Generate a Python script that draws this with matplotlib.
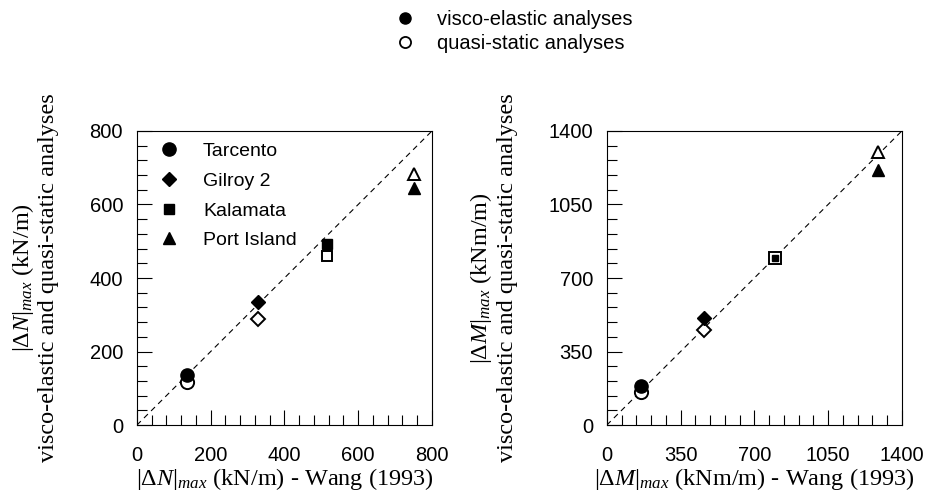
import matplotlib
matplotlib.use("Agg")
import matplotlib.pyplot as plt
from matplotlib.lines import Line2D
from matplotlib.ticker import MultipleLocator

plt.rcParams['font.family'] = ['Liberation Sans', 'DejaVu Sans']
plt.rcParams['mathtext.fontset'] = 'custom'
plt.rcParams['mathtext.rm'] = 'Liberation Serif'
plt.rcParams['mathtext.it'] = 'Liberation Serif:italic'
plt.rcParams['mathtext.bf'] = 'Liberation Serif:bold'

# data
sites = ["Tarcento", "Gilroy 2", "Kalamata", "Port Island"]
markers = ["o", "D", "s", "^"]
msizes = [9.5, 7, 7, 8]

# axial force N (kN/m)
n_wang = [137, 329, 515, 750]
n_visco = [135, 336, 492, 644]
n_quasi = [117, 289, 461, 683]

# bending moment M (kNm/m)
m_wang = [164, 459, 800, 1289]
m_visco = [186, 508, 795, 1214]
m_quasi = [158, 453, 795, 1301]

fig = plt.figure(figsize=(9.25, 4.96), dpi=100)
ax1 = fig.add_axes([0.148, 0.143, 0.319, 0.593])
ax2 = fig.add_axes([0.656, 0.143, 0.319, 0.593])

serif = 'Liberation Serif'


def draw_panel(ax, wang, visco, quasi, lim, major, minor, xlab, ylab):
    ax.plot([0, lim], [0, lim], ls=(0, (5, 4)), color='black', lw=0.8, zorder=1)
    for i in range(len(wang)):
        same = abs(visco[i] - quasi[i]) < 10
        ms_q = msizes[i] * 1.3 if same else msizes[i]
        ms_v = msizes[i] * 0.6 if same else msizes[i]
        ax.plot(wang[i], quasi[i], marker=markers[i], ms=ms_q, mfc='white',
                mec='black', mew=1.4, ls='none', zorder=3)
        ax.plot(wang[i], visco[i], marker=markers[i], ms=ms_v, mfc='black',
                mec='black', ls='none', zorder=4)
    ax.set_xlim(0, lim)
    ax.set_ylim(0, lim)
    ax.xaxis.set_major_locator(MultipleLocator(major))
    ax.yaxis.set_major_locator(MultipleLocator(major))
    ax.xaxis.set_minor_locator(MultipleLocator(minor))
    ax.yaxis.set_minor_locator(MultipleLocator(minor))
    ax.tick_params(which='both', direction='in', top=False, right=False, labelsize=14.5)
    ax.tick_params(which='major', length=11, width=0.8)
    ax.tick_params(which='minor', length=7, width=0.8)
    ax.tick_params(axis='y', which='major', pad=10)
    ax.tick_params(axis='x', which='major', pad=15)
    for s in ax.spines.values():
        s.set_linewidth(0.8)
    ax.set_xlabel(xlab, fontsize=17.5, fontfamily=serif, labelpad=1)
    ax.set_ylabel(ylab, fontsize=17.5, fontfamily=serif, labelpad=22, linespacing=1.15)


draw_panel(ax1, n_wang, n_visco, n_quasi, 800, 200, 40,
           r'$|\Delta N|_{max}$ (kN/m) - Wang (1993)',
           '$|\\Delta N|_{max}$ (kN/m)\nvisco-elastic and quasi-static analyses')
draw_panel(ax2, m_wang, m_visco, m_quasi, 1400, 350, 70,
           r'$|\Delta M|_{max}$ (kNm/m) - Wang (1993)',
           '$|\\Delta M|_{max}$ (kNm/m)\nvisco-elastic and quasi-static analyses')

site_handles = [Line2D([], [], marker=markers[i], ms=msizes[i], color='black', ls='none')
                for i in range(len(sites))]
ax1.legend(site_handles, sites, loc='upper left', frameon=False, fontsize=14,
           handletextpad=0.75, labelspacing=0.62, borderaxespad=0.2,
           bbox_to_anchor=(0.003, 1.0))

type_handles = [Line2D([], [], marker='o', ms=8, color='black', ls='none'),
                Line2D([], [], marker='o', ms=8, mfc='white', mec='black', mew=1.3, ls='none')]
fig.legend(type_handles, ["visco-elastic analyses", "quasi-static analyses"],
           loc='upper left', bbox_to_anchor=(0.3966, 1.016), frameon=False, fontsize=14.5,
           handletextpad=0.6, labelspacing=0.22)

fig.savefig("out.png", dpi=100)
